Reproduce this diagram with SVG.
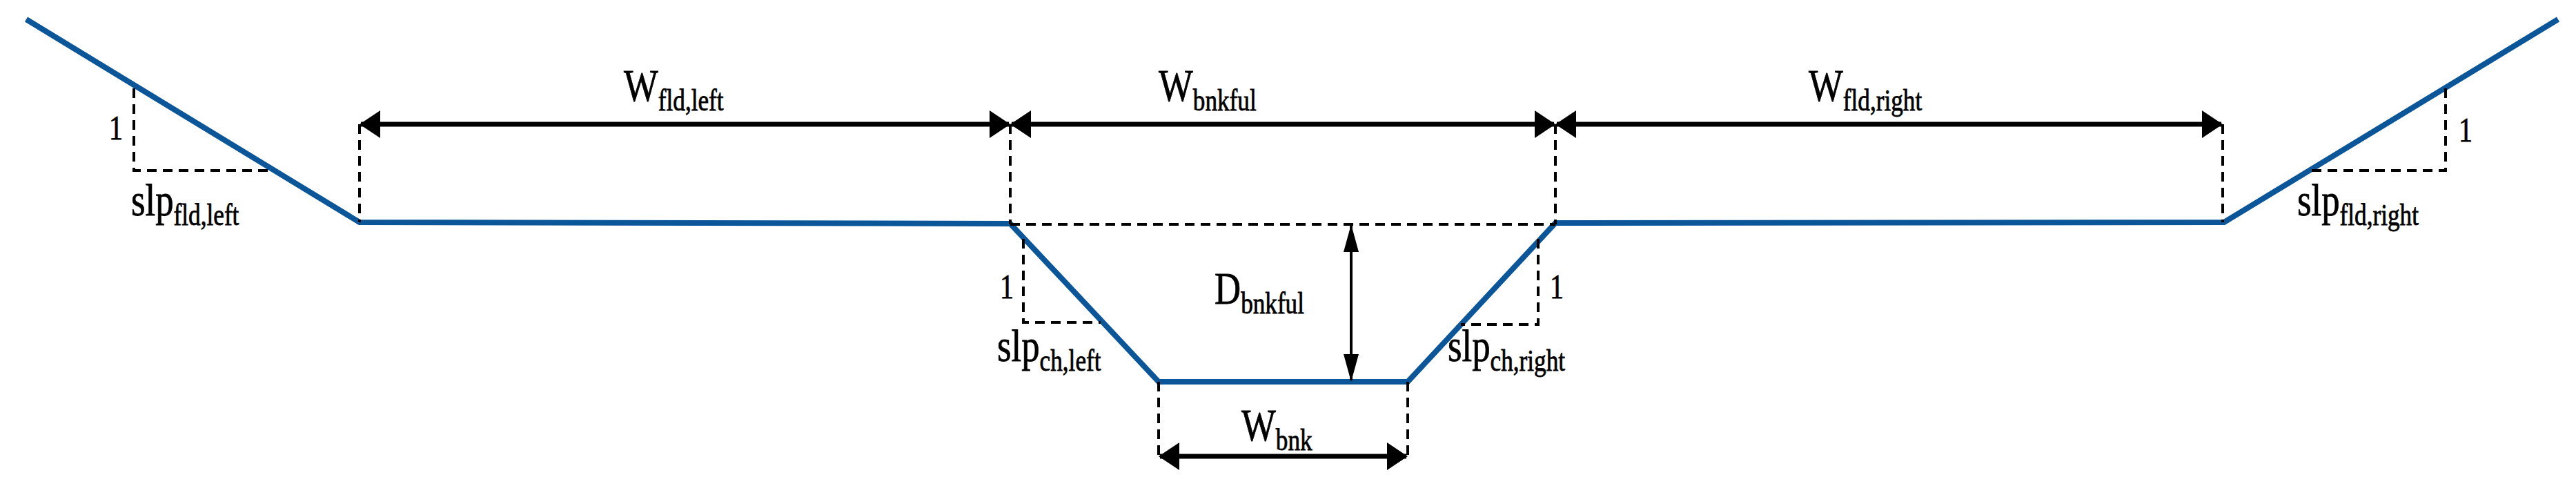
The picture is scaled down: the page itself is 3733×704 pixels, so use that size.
<svg xmlns="http://www.w3.org/2000/svg" width="3733" height="704" viewBox="0 0 3733 704">
<style>
.bed{fill:none;stroke:#0b5599;stroke-width:8;stroke-linejoin:miter}
.dash{fill:none;stroke:#000;stroke-width:4;stroke-dasharray:14 9}
.dim{fill:none;stroke:#000;stroke-width:7;marker-start:url(#ah);marker-end:url(#ah)}
.dimv{fill:none;stroke:#000;stroke-width:4;marker-start:url(#ah2);marker-end:url(#ah2)}
text{font-family:"Liberation Serif","Times New Roman",serif;fill:#000;stroke:#000;stroke-width:0.8}
.m{font-size:66px}
.s{font-size:44px}
.one{font-size:50px}
</style>
<defs>
<marker id="ah" markerUnits="userSpaceOnUse" viewBox="0 0 30 40" refX="28" refY="20" markerWidth="30" markerHeight="40" orient="auto-start-reverse"><path d="M0,0 L30,20 L0,40 Z" fill="#000"/></marker>
<marker id="ah2" markerUnits="userSpaceOnUse" viewBox="0 0 40 22" refX="38" refY="11" markerWidth="40" markerHeight="22" orient="auto-start-reverse"><path d="M0,0 L40,11 L0,22 Z" fill="#000"/></marker>
</defs>
<g id="profile">
<polyline class="bed" points="38,28 521,322 1464,324 1679,553 2040,553 2254,323 3223,322 3707,28"/>
</g>
<g id="guides">
<line class="dash" x1="521" y1="180" x2="521" y2="322"/>
<line class="dash" x1="1464" y1="180" x2="1464" y2="325"/>
<line class="dash" x1="2254" y1="180" x2="2254" y2="325"/>
<line class="dash" x1="3221" y1="180" x2="3221" y2="322"/>
<line class="dash" x1="1464" y1="325" x2="2254" y2="325"/>
<line class="dash" x1="1679" y1="553" x2="1679" y2="661"/>
<line class="dash" x1="2040" y1="553" x2="2040" y2="661"/>
<polyline class="dash" points="194,128 194,247 388,247"/>
<polyline class="dash" points="3544,128 3544,247 3348,247"/>
<polyline class="dash" points="1483,346 1483,467 1595,467"/>
<polyline class="dash" points="2229,346 2229,470 2117,470"/>
</g>
<g id="connectors">
<line class="dim" x1="523" y1="180" x2="1462" y2="180"/>
<line class="dim" x1="1466" y1="180" x2="2252" y2="180"/>
<line class="dim" x1="2256" y1="180" x2="3219" y2="180"/>
<line class="dimv" x1="1958" y1="327" x2="1958" y2="551"/>
<line class="dim" x1="1681" y1="661" x2="2038" y2="661"/>
</g>
<g id="labels">
<text class="m" transform="translate(904,146) scale(0.8,1)">W<tspan class="s" dy="14">fld,left</tspan></text>
<text class="m" transform="translate(1679,146) scale(0.8,1)">W<tspan class="s" dy="14">bnkful</tspan></text>
<text class="m" transform="translate(2621,146) scale(0.8,1)">W<tspan class="s" dy="14">fld,right</tspan></text>
<text class="m" transform="translate(1760,440) scale(0.8,1)">D<tspan class="s" dy="14">bnkful</tspan></text>
<text class="m" transform="translate(1799,638) scale(0.8,1)">W<tspan class="s" dy="14">bnk</tspan></text>
<text class="m" transform="translate(190,312) scale(0.8,1)">slp<tspan class="s" dy="14">fld,left</tspan></text>
<text class="m" transform="translate(3329,312) scale(0.8,1)">slp<tspan class="s" dy="14">fld,right</tspan></text>
<text class="m" transform="translate(1445,523) scale(0.8,1)">slp<tspan class="s" dy="14">ch,left</tspan></text>
<text class="m" transform="translate(2098,523) scale(0.8,1)">slp<tspan class="s" dy="14">ch,right</tspan></text>
<text class="one" transform="translate(158,202) scale(0.8,1)">1</text>
<text class="one" transform="translate(3563,205) scale(0.8,1)">1</text>
<text class="one" transform="translate(1449,432) scale(0.8,1)">1</text>
<text class="one" transform="translate(2246,432) scale(0.8,1)">1</text>
</g>
</svg>
